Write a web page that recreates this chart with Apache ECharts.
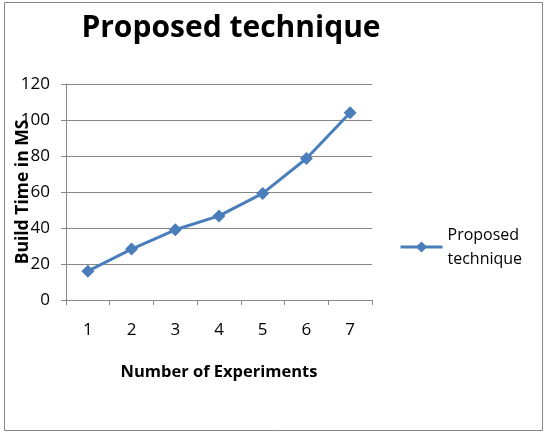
<!DOCTYPE html>
<html>
<head>
<meta charset="utf-8">
<script src="https://cdn.jsdelivr.net/npm/echarts@6/dist/echarts.min.js"></script>
<style>
  html, body { margin: 0; padding: 0; background: #fff; }
  #chart { width: 551px; height: 438px; }
</style>
</head>
<body>
<div id="chart"></div>
<script>
var experiments = ['1', '2', '3', '4', '5', '6', '7'];
var buildTime = [16, 28.3, 39, 46.7, 59.2, 78.6, 104];
var seriesName = 'Proposed technique';

var chart = echarts.init(document.getElementById('chart'));
var font = 'Open Sans';
chart.setOption({
    animation: false,
    title: {
        text: seriesName,
        left: 226,
        textAlign: 'center',
        top: 8,
        textStyle: { fontFamily: font, fontWeight: 'bold', fontSize: 30, color: '#000' }
    },
    graphic: [{
        type: 'rect',
        shape: { x: 4.5, y: 2.5, width: 538, height: 428 },
        style: { fill: null, stroke: '#868686', lineWidth: 1 }
    }],
    legend: {
        left: 394,
        top: 218,
        itemWidth: 42,
        itemHeight: 14,
        itemGap: 0,
        data: [{ name: seriesName, lineStyle: { width: 3 } }],
        lineStyle: { width: 3 },
        formatter: function () { return 'Proposed\ntechnique'; },
        textStyle: { fontFamily: font, fontSize: 16, color: '#000', lineHeight: 24 }
    },
    grid: { left: 66, right: 179, top: 84, bottom: 138, outerBoundsMode: 'none' },
    xAxis: {
        type: 'category',
        data: experiments,
        boundaryGap: true,
        name: 'Number of Experiments',
        nameLocation: 'middle',
        nameGap: 64,
        nameTextStyle: { fontFamily: font, fontWeight: 'bold', fontSize: 16.5, color: '#000' },
        axisLine: { lineStyle: { color: '#868686', width: 1 } },
        axisTick: { show: true, length: 5, lineStyle: { color: '#868686' } },
        axisLabel: { fontFamily: font, fontSize: 17, color: '#000', margin: 22 }
    },
    yAxis: {
        type: 'value',
        min: 0,
        max: 120,
        interval: 20,
        name: 'Build Time in MS',
        nameLocation: 'middle',
        nameGap: 34,
        nameMoveOverlap: false,
        nameTextStyle: { fontFamily: font, fontWeight: 'bold', fontSize: 17.5, color: '#000' },
        axisLine: { show: true, lineStyle: { color: '#868686', width: 1 } },
        axisTick: { show: true, length: 5, lineStyle: { color: '#868686' } },
        axisLabel: { fontFamily: font, fontSize: 17, color: '#000', margin: 16 },
        splitLine: { lineStyle: { color: '#868686', width: 1 } }
    },
    series: [{
        name: seriesName,
        type: 'line',
        data: buildTime,
        symbol: 'diamond',
        symbolSize: 13,
        itemStyle: { color: '#4a7ebb' },
        lineStyle: { color: '#4a7ebb', width: 3 }
    }]
});
</script>
</body>
</html>
